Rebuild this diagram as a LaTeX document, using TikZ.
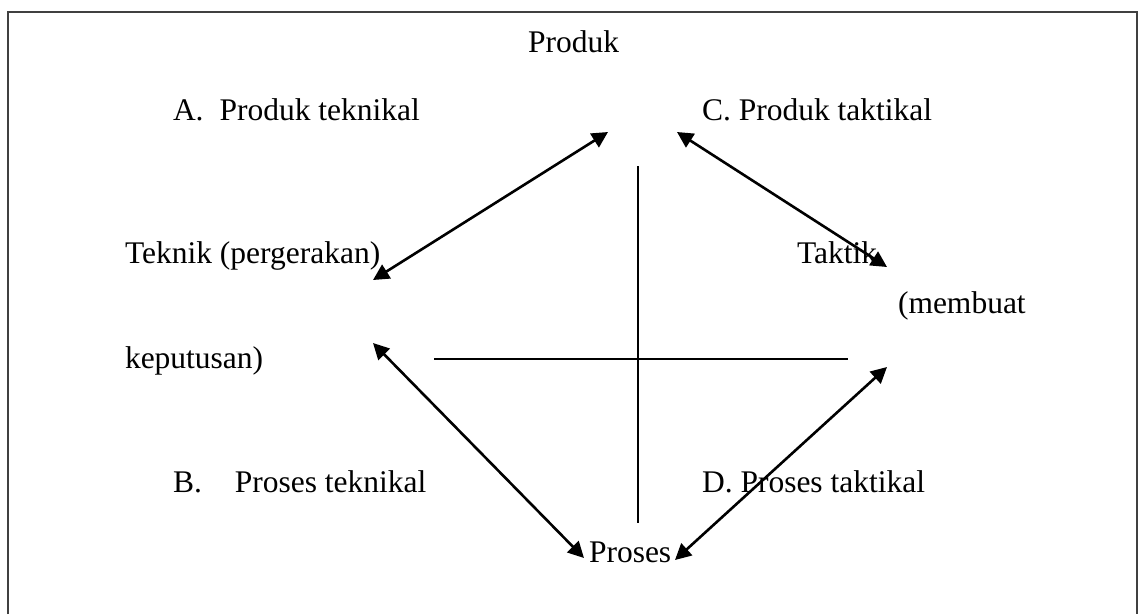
\documentclass[tikz,border=0pt]{standalone}
\usepackage{fontspec}
\setmainfont{Liberation Serif}
\usetikzlibrary{arrows.meta}
\begin{document}
\begin{tikzpicture}[x=1pt,y=-1pt,
  lbl/.style={anchor=base west,inner sep=0pt,outer sep=0pt,font=\fontsize{31.5}{36}\selectfont},
  dbl/.style={line width=2.6pt,{Triangle[length=16pt,width=16pt]}-{Triangle[length=16pt,width=16pt]}},
  axis/.style={line width=1.3pt},
  frame/.style={line width=1.6pt,draw=black!75}]
\useasboundingbox (0,0) rectangle (1138,614);
% outer frame (open at the bottom)
\draw[frame] (8,614) -- (8,12) -- (1137,12) -- (1137,614);

% labels
\node[lbl] (produk) at (528,52) {Produk};
\node[lbl] (A) at (173,120) {A.\hspace{16pt}Produk teknikal};
\node[lbl] (C) at (702,120) {C. Produk taktikal};
\node[lbl] (teknik) at (125,263) {Teknik (pergerakan)};
\node[lbl] (taktik) at (797,263) {Taktik};
\node[lbl] (membuat) at (898,313) {(membuat};
\node[lbl] (keputusan) at (125,368) {keputusan)};
\node[lbl] (B) at (173,492) {B.\hspace{33pt}Proses teknikal};
\node[lbl] (D) at (702,492) {D. Proses taktikal};
\node[lbl] (proses) at (589,562) {Proses};

% arrow ends
\coordinate (tl) at (608,132);
\coordinate (tr) at (677,132);
\coordinate (ltop) at (373,280);
\coordinate (lbot) at (373,343);
\coordinate (rtop) at (887,267);
\coordinate (rbot) at (887,367);
\coordinate (bl) at (584,558);
\coordinate (br) at (675,560);

% cross in the middle
\coordinate (vt) at (638,166);
\coordinate (vb) at (638,523);
\coordinate (hl) at (434,359);
\coordinate (hr) at (848,359);
\draw[axis] (vt) -- (vb);
\draw[axis] (hl) -- (hr);

% double-headed connectors
\draw[dbl] (ltop) -- (tl);
\draw[dbl] (tr) -- (rtop);
\draw[dbl] (lbot) -- (bl);
\draw[dbl] (br) -- (rbot);
\end{tikzpicture}
\end{document}
